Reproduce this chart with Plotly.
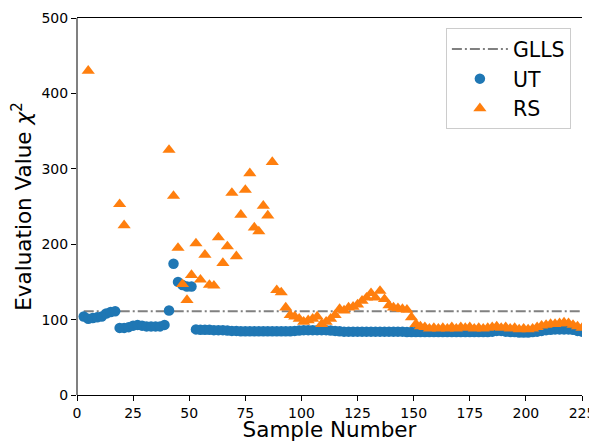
import plotly.graph_objects as go

# ---------------- data ----------------
ut_x = list(range(3, 226, 2))
ut_y = [104, 101, 102, 103, 104, 108, 110, 111,            # 3..17
        89, 89, 90, 92, 93, 92, 91, 91, 91, 91, 93,        # 19..39
        112, 174, 150, 146, 144, 144,                      # 41..51
        87, 86.5, 86.5, 86.5, 86, 86, 86, 85.5, 85, 85,    # 53..71
        84.5, 84.5, 84.5, 84.5, 84.5, 84.5, 84.5, 84.5,    # 73..87
        84.5, 84.5, 84.5, 84.5, 85, 85.5, 86, 86, 86, 86,  # 89..107
        86, 86, 85.5, 85, 84.5, 84, 84, 84, 84, 84,        # 109..127
        84, 84, 84, 84, 84, 84, 84, 84, 84, 83.5,          # 129..147
        83.5, 83.5, 83.5, 83.5, 83.5, 83.5, 83.5, 83.5,    # 149..163
        83.5, 83.5, 83.5, 83.5, 83.5, 83.5, 83.5, 83.5,    # 165..179
        83.5, 83.5, 84, 85, 85, 84, 83.5, 83.5, 83, 83,    # 181..199
        83, 83.5, 84, 85, 86, 86.5, 87, 87, 87, 87,        # 201..219
        86.5, 85, 84]                                      # 221..225

rs_x = [5, 19, 21, 41, 43, 45, 47, 49, 51, 53, 55, 57, 59, 61, 63, 65, 67,
        69, 71, 73, 75, 77, 79, 81, 83, 85, 87, 89, 91, 93] + list(range(95, 226, 2))
rs_y = [430, 253, 225, 325, 264, 195, 147, 126, 159, 201, 153, 186, 146, 145,
        209, 175, 197, 268, 184, 239, 272, 294, 222, 217, 251, 238, 309, 139,
        136, 116,
        106, 104, 101, 97, 99, 101, 104, 94, 97, 101,      # 95..113
        106, 114, 112, 116, 117, 120, 125, 129, 135, 129,  # 115..133
        138, 127, 119, 116, 115, 114, 113, 103, 94, 91,    # 135..153
        90, 88, 89, 88, 89, 88, 90, 88, 90, 89,            # 155..173
        90, 88, 89, 88, 89, 90, 91, 89, 90, 88,            # 175..193
        89, 87, 88, 87, 88, 90, 92, 93, 94, 94,            # 195..213
        95, 96, 95, 93, 91, 89]                            # 215..225

glls_value = 111
glls_x = [ut_x[0], ut_x[-1]]
glls_y = [glls_value, glls_value]

x_ticks = [0, 25, 50, 75, 100, 125, 150, 175, 200, 225]
y_ticks = [0, 100, 200, 300, 400, 500]

BLUE = "#1f77b4"
ORANGE = "#ff7f0e"
FONT = "DejaVu Sans"

fig = go.Figure()
fig.add_trace(go.Scatter(
    x=glls_x, y=glls_y, mode="lines", name="GLLS",
    line=dict(color="#808080", width=2, dash="10px,3px,2px,3px"),
))
fig.add_trace(go.Scatter(
    x=ut_x, y=ut_y, mode="markers", name="UT",
    marker=dict(symbol="circle", size=10.5, color=BLUE, line=dict(width=0)),
))
fig.add_trace(go.Scatter(
    x=rs_x, y=rs_y, mode="markers", name="RS",
    marker=dict(symbol="triangle-up", size=11.5, color=ORANGE, line=dict(width=0)),
))

# the page body adds an 8px margin, so the figure is 8px smaller each way
fig.update_layout(
    width=589, height=434,
    margin=dict(l=69, r=15, t=10, b=47),
    paper_bgcolor="white", plot_bgcolor="white",
    font=dict(family=FONT, size=14, color="black"),
    showlegend=True,
    legend=dict(
        x=0.978, y=0.973, xanchor="right", yanchor="top",
        bgcolor="rgba(255,255,255,0.8)", bordercolor="#cccccc", borderwidth=1,
        font=dict(family=FONT, size=20.5, color="black"),
        itemwidth=56,
    ),
    xaxis=dict(
        range=[0, 225], tickvals=x_ticks, ticktext=[str(t) for t in x_ticks],
        showgrid=False, zeroline=True, zerolinecolor="#808080", zerolinewidth=2,
        showline=True, linecolor="black", linewidth=1, mirror=True,
        ticks="outside", ticklen=5, tickcolor="black", automargin=False,
        title=dict(text="Sample Number", font=dict(family=FONT, size=21.5), standoff=11),
    ),
    yaxis=dict(
        range=[0, 500], tickvals=y_ticks, ticktext=[str(t) for t in y_ticks],
        showgrid=False, zeroline=False, showline=False, automargin=False,
        ticks="outside", ticklen=5, tickcolor="black",
        title=dict(text="Evaluation Value <i>χ</i><sup>2</sup>",
                   font=dict(family=FONT, size=21.5), standoff=7),
    ),
    yaxis2=dict(
        overlaying="y", side="right", anchor="x", range=[0, 500], automargin=False,
        showline=True, linecolor="black", linewidth=1,
        showticklabels=False, ticks="", showgrid=False, zeroline=False,
    ),
)

fig.write_html("out.html")
